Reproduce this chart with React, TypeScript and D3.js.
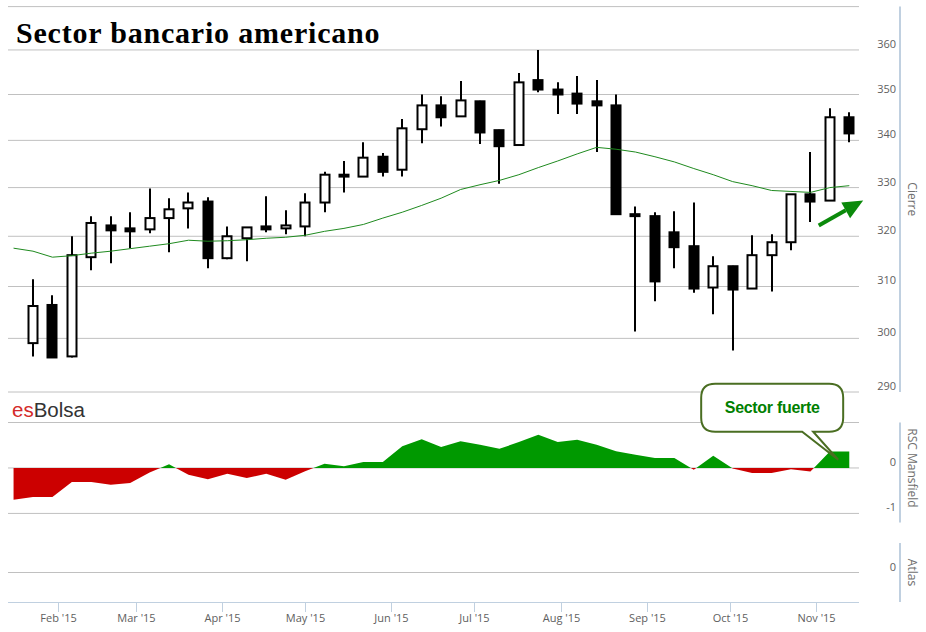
import * as d3 from "d3";

const W = 926;
const H = 632;
const PLOT = { left: 8, right: 859, axisX: 900 };
const PANEL_PRICE = { top: 6.6, bottom: 392 };
const PANEL_RSC = { top: 422.5, bottom: 522.5 };
const PANEL_ATLAS = { top: 543, bottom: 602 };

// weekly dates (first one only carries MA / RSC)
const weeks = [
  "2015-01-16", "2015-01-23", "2015-01-30", "2015-02-06", "2015-02-13", "2015-02-20",
  "2015-02-27", "2015-03-06", "2015-03-13", "2015-03-20", "2015-03-27", "2015-04-03",
  "2015-04-10", "2015-04-17", "2015-04-24", "2015-05-01", "2015-05-08", "2015-05-15",
  "2015-05-22", "2015-05-29", "2015-06-05", "2015-06-12", "2015-06-19", "2015-06-26",
  "2015-07-03", "2015-07-10", "2015-07-17", "2015-07-24", "2015-07-31", "2015-08-07",
  "2015-08-14", "2015-08-21", "2015-08-28", "2015-09-04", "2015-09-11", "2015-09-18",
  "2015-09-25", "2015-10-02", "2015-10-09", "2015-10-16", "2015-10-23", "2015-10-30",
  "2015-11-06", "2015-11-13",
];

const opens = [
  299.1, 306.4, 296.6, 315.8, 322.2, 321.6, 321.4, 323.7, 325.7, 327.1, 315.6,
  319.6, 322.0, 321.6, 322.0, 326.9, 332.7, 332.3, 336.5, 333.75, 342.4, 347.6,
  345.2, 348.5, 342.2, 339.0, 353.2, 351.1, 350.2, 348.5, 347.6, 324.5, 324.1,
  320.8, 318.0, 309.8, 314.0, 309.6, 316.2, 318.8, 328.6, 327.3, 345.0,
];
const highs = [
  311.4, 308.3, 320.0, 324.1, 324.1, 324.9, 329.8, 327.8, 329.0, 328.0, 322.0,
  321.9, 328.2, 325.3, 328.8, 333.3, 335.6, 339.6, 337.3, 344.6, 350.0, 349.6,
  353.0, 348.6, 342.3, 354.8, 360.0, 352.7, 354.1, 353.2, 350.0, 326.1, 324.9,
  325.1, 326.9, 316.0, 314.1, 320.2, 320.4, 328.6, 337.5, 347.0, 346.1,
];
const lows = [
  296.6, 296.4, 296.4, 313.2, 314.6, 317.6, 320.6, 316.8, 321.6, 313.6, 315.4,
  315.0, 320.8, 320.4, 320.0, 324.9, 329.0, 332.2, 332.3, 332.3, 339.4, 343.0,
  345.1, 339.2, 330.8, 338.9, 350.5, 345.7, 345.7, 337.5, 324.4, 301.3, 307.1,
  313.6, 308.8, 304.6, 297.7, 309.5, 309.0, 317.2, 322.9, 327.2, 339.6,
];
const closes = [
  306.2, 296.4, 316.2, 322.7, 321.2, 321.0, 323.7, 325.5, 326.9, 315.6, 320.0,
  321.8, 321.4, 322.2, 326.9, 332.7, 332.3, 336.3, 333.3, 342.6, 347.6, 345.0,
  348.7, 341.7, 338.75, 352.7, 351.1, 350.0, 348.0, 347.6, 324.5, 324.1, 311.0,
  317.8, 309.6, 314.0, 309.4, 316.2, 318.8, 328.6, 327.1, 345.0, 341.5,
];

// moving average of the close
const movingAvg = [
  317.6, 317.0, 315.8, 316.1, 316.6, 317.0, 317.5, 318.0, 318.5, 319.2, 319.0,
  319.1, 319.3, 319.6, 319.8, 320.2, 321.0, 321.6, 322.4, 323.7, 324.9, 326.3,
  327.8, 329.6, 330.6, 331.5, 332.7, 334.2, 335.6, 337.1, 338.5, 338.1, 337.5,
  336.5, 335.4, 334.0, 332.7, 331.25, 330.4, 329.4, 329.2, 329.0, 330.0, 330.4,
];

// relative strength (Mansfield)
const rscMansfield = [
  -0.70, -0.64, -0.64, -0.31, -0.31, -0.37, -0.33, -0.10, 0.08, -0.15, -0.25,
  -0.13, -0.22, -0.13, -0.26, -0.07, 0.09, 0.04, 0.13, 0.13, 0.48, 0.63,
  0.46, 0.59, 0.51, 0.42, 0.57, 0.73, 0.57, 0.62, 0.51, 0.37, 0.29,
  0.22, 0.22, -0.04, 0.27, -0.01, -0.11, -0.11, -0.03, -0.08, 0.36, 0.36,
];

const priceGrid = [290, 300, 310, 320, 330, 340, 350, 360, 370];
const priceLabels = [290, 300, 310, 320, 330, 340, 350, 360];
const rscGrid = [-1, 0, 1];
const rscLabels = [-1, 0];
const atlasGrid = [0];
const monthTicks = [
  "2015-02-01", "2015-03-01", "2015-04-01", "2015-05-01", "2015-06-01",
  "2015-07-01", "2015-08-01", "2015-09-01", "2015-10-01", "2015-11-01",
];
const monthLabels = ["Feb '15", "Mar '15", "Apr '15", "May '15", "Jun '15", "Jul '15", "Aug '15", "Sep '15", "Oct '15", "Nov '15"];

const arrowFrom = { date: "2015-11-02", price: 322.2 };
const arrowTo = { date: "2015-11-18", price: 327.3 };
const callout = { date: "2015-11-09", value: 0.18, text: "Sector fuerte" };

const parse = d3.utcParse("%Y-%m-%d");
const AXIS_FONT = "'Open Sans', 'DejaVu Sans', sans-serif";
const GRID = "#C0C0C0";
const AXIS_LINE = "#C0D0E0";

export default function App() {
  const x = d3
    .scaleUtc()
    .domain([new Date(Date.UTC(2015, 0, 14)), new Date(Date.UTC(2015, 10, 16, 12))])
    .range([PLOT.left, PLOT.right]);
  const yP = d3.scaleLog().domain([290, 370]).range([PANEL_PRICE.bottom, PANEL_PRICE.top]);
  const yR = d3.scaleLinear().domain([-1.2, 1]).range([PANEL_RSC.bottom, PANEL_RSC.top]);
  const yA = d3.scaleLinear().domain([-1, 1]).range([PANEL_ATLAS.bottom, PANEL_ATLAS.top]);

  const xd = (s: string) => x(parse(s) as Date);

  const maLine = d3
    .line<number>()
    .x((_, i) => xd(weeks[i]))
    .y((d) => yP(d))(movingAvg);

  const rscArea = d3
    .area<number>()
    .x((_, i) => xd(weeks[i]))
    .y0(yR(0))
    .y1((d) => yR(d))(rscMansfield);

  const candleDates = weeks.slice(1);

  // arrow annotation
  const ax0 = xd(arrowFrom.date), ay0 = yP(arrowFrom.price);
  const ax1 = xd(arrowTo.date), ay1 = yP(arrowTo.price);
  const len = Math.hypot(ax1 - ax0, ay1 - ay0);
  const ux = (ax1 - ax0) / len, uy = (ay1 - ay0) / len;
  const headLen = 20, headW = 9;
  const bx = ax1 - ux * headLen, by = ay1 - uy * headLen;
  const head = [
    [ax1, ay1],
    [bx - uy * headW, by + ux * headW],
    [bx + uy * headW, by - ux * headW],
  ];

  // callout bubble
  const tx = xd(callout.date), ty = yR(callout.value);
  const bl = tx - 137, br = tx + 5, bt = ty - 76, bb = ty - 28, rad = 14;
  const p1 = tx - 36, p2 = tx - 25;
  const bubble = `M${bl + rad},${bt} H${br - rad} Q${br},${bt} ${br},${bt + rad} V${bb - rad} Q${br},${bb} ${br - rad},${bb} H${p2} L${tx},${ty} L${p1},${bb} H${bl + rad} Q${bl},${bb} ${bl},${bb - rad} V${bt + rad} Q${bl},${bt} ${bl + rad},${bt} Z`;

  return (
    <svg width={W} height={H} style={{ position: "absolute", left: 0, top: 0, background: "#fff" }}>
      <defs>
        <clipPath id="above">
          <rect x={0} y={0} width={W} height={yR(0)} />
        </clipPath>
        <clipPath id="below">
          <rect x={0} y={yR(0)} width={W} height={H} />
        </clipPath>
      </defs>
      <rect width={W} height={H} fill="#fff" />

      {/* grid */}
      {priceGrid.map((v) => (
        <line key={"pg" + v} x1={PLOT.left} x2={PLOT.right} y1={yP(v)} y2={yP(v)} stroke={GRID} />
      ))}
      {rscGrid.map((v) => (
        <line key={"rg" + v} x1={PLOT.left} x2={PLOT.right} y1={yR(v)} y2={yR(v)} stroke={GRID} />
      ))}
      {atlasGrid.map((v) => (
        <line key={"ag" + v} x1={PLOT.left} x2={PLOT.right} y1={yA(v)} y2={yA(v)} stroke={GRID} />
      ))}

      {/* title + logo */}
      <text x={16} y={43} fontFamily="'Liberation Serif', 'Times New Roman', serif" fontWeight="bold" fontSize={30} letterSpacing={0.8} fill="#000">
        Sector bancario americano
      </text>
      <text x={12} y={417} fontFamily="'Liberation Sans', Arial, sans-serif" fontSize={20.5}>
        <tspan fill="#d42a2a">es</tspan>
        <tspan fill="#333">Bolsa</tspan>
      </text>

      {/* candles */}
      {candleDates.map((d, i) => {
        const cx = Math.round(xd(d));
        const o = opens[i], c = closes[i];
        const up = c >= o;
        const top = yP(Math.max(o, c));
        const bot = yP(Math.min(o, c));
        return (
          <g key={d}>
            <line x1={cx} x2={cx} y1={yP(highs[i])} y2={yP(lows[i])} stroke="#000" strokeWidth={2} />
            <rect x={cx - 4.5} y={top} width={9} height={Math.max(bot - top, 1)} fill={up ? "#fff" : "#000"} stroke="#000" strokeWidth={2} />
          </g>
        );
      })}

      {/* moving average */}
      <path d={maLine ?? ""} fill="none" stroke="#1f8a1f" strokeWidth={1} />

      {/* arrow */}
      <line x1={ax0} y1={ay0} x2={bx} y2={by} stroke="#0b8a0b" strokeWidth={4} />
      <polygon points={head.map((p) => p.join(",")).join(" ")} fill="#0b8a0b" />

      {/* RSC area */}
      <path d={rscArea ?? ""} fill="#009900" clipPath="url(#above)" />
      <path d={rscArea ?? ""} fill="#cc0000" clipPath="url(#below)" />

      {/* callout */}
      <path d={bubble} fill="#fff" stroke="#4a6e22" strokeWidth={2} />
      <text x={(bl + br) / 2} y={bt + 29} textAnchor="middle" fontFamily="'Liberation Sans', Arial, sans-serif" fontWeight="bold" fontSize={16} letterSpacing={-0.3} fill="#008000">
        {callout.text}
      </text>

      {/* x axis */}
      <line x1={PLOT.left} x2={PLOT.right} y1={PANEL_ATLAS.bottom + 0.5} y2={PANEL_ATLAS.bottom + 0.5} stroke={AXIS_LINE} />
      {monthTicks.map((m, i) => {
        const mx = Math.round(xd(m)) + 0.5;
        return (
          <g key={m}>
            <line x1={mx} x2={mx} y1={PANEL_ATLAS.bottom} y2={PANEL_ATLAS.bottom + 10} stroke={AXIS_LINE} />
            <text x={mx} y={622} textAnchor="middle" fontFamily={AXIS_FONT} fontSize={11} fill="#606060">
              {monthLabels[i]}
            </text>
          </g>
        );
      })}

      {/* right axes */}
      {[PANEL_PRICE, PANEL_RSC, PANEL_ATLAS].map((p, i) => (
        <line key={"ax" + i} x1={PLOT.axisX} x2={PLOT.axisX} y1={p.top} y2={p.bottom} stroke={AXIS_LINE} strokeWidth={2} />
      ))}
      {priceLabels.map((v) => (
        <text key={"pl" + v} x={896} y={yP(v) - 2} textAnchor="end" fontFamily={AXIS_FONT} fontSize={11} fill="#606060">
          {v}
        </text>
      ))}
      {rscLabels.map((v) => (
        <text key={"rl" + v} x={896} y={yR(v) - 2} textAnchor="end" fontFamily={AXIS_FONT} fontSize={11} fill="#606060">
          {v}
        </text>
      ))}
      {atlasGrid.map((v) => (
        <text key={"al" + v} x={896} y={yA(v) - 2} textAnchor="end" fontFamily={AXIS_FONT} fontSize={11} fill="#606060">
          {v}
        </text>
      ))}
      {[
        { t: "Cierre", y: (PANEL_PRICE.top + PANEL_PRICE.bottom) / 2 },
        { t: "RSC Mansfield", y: yR(0) },
        { t: "Atlas", y: yA(0) },
      ].map((a) => (
        <text key={a.t} transform={`translate(908,${a.y}) rotate(90)`} textAnchor="middle" fontFamily={AXIS_FONT} fontSize={12} fill="#707070">
          {a.t}
        </text>
      ))}
    </svg>
  );
}
